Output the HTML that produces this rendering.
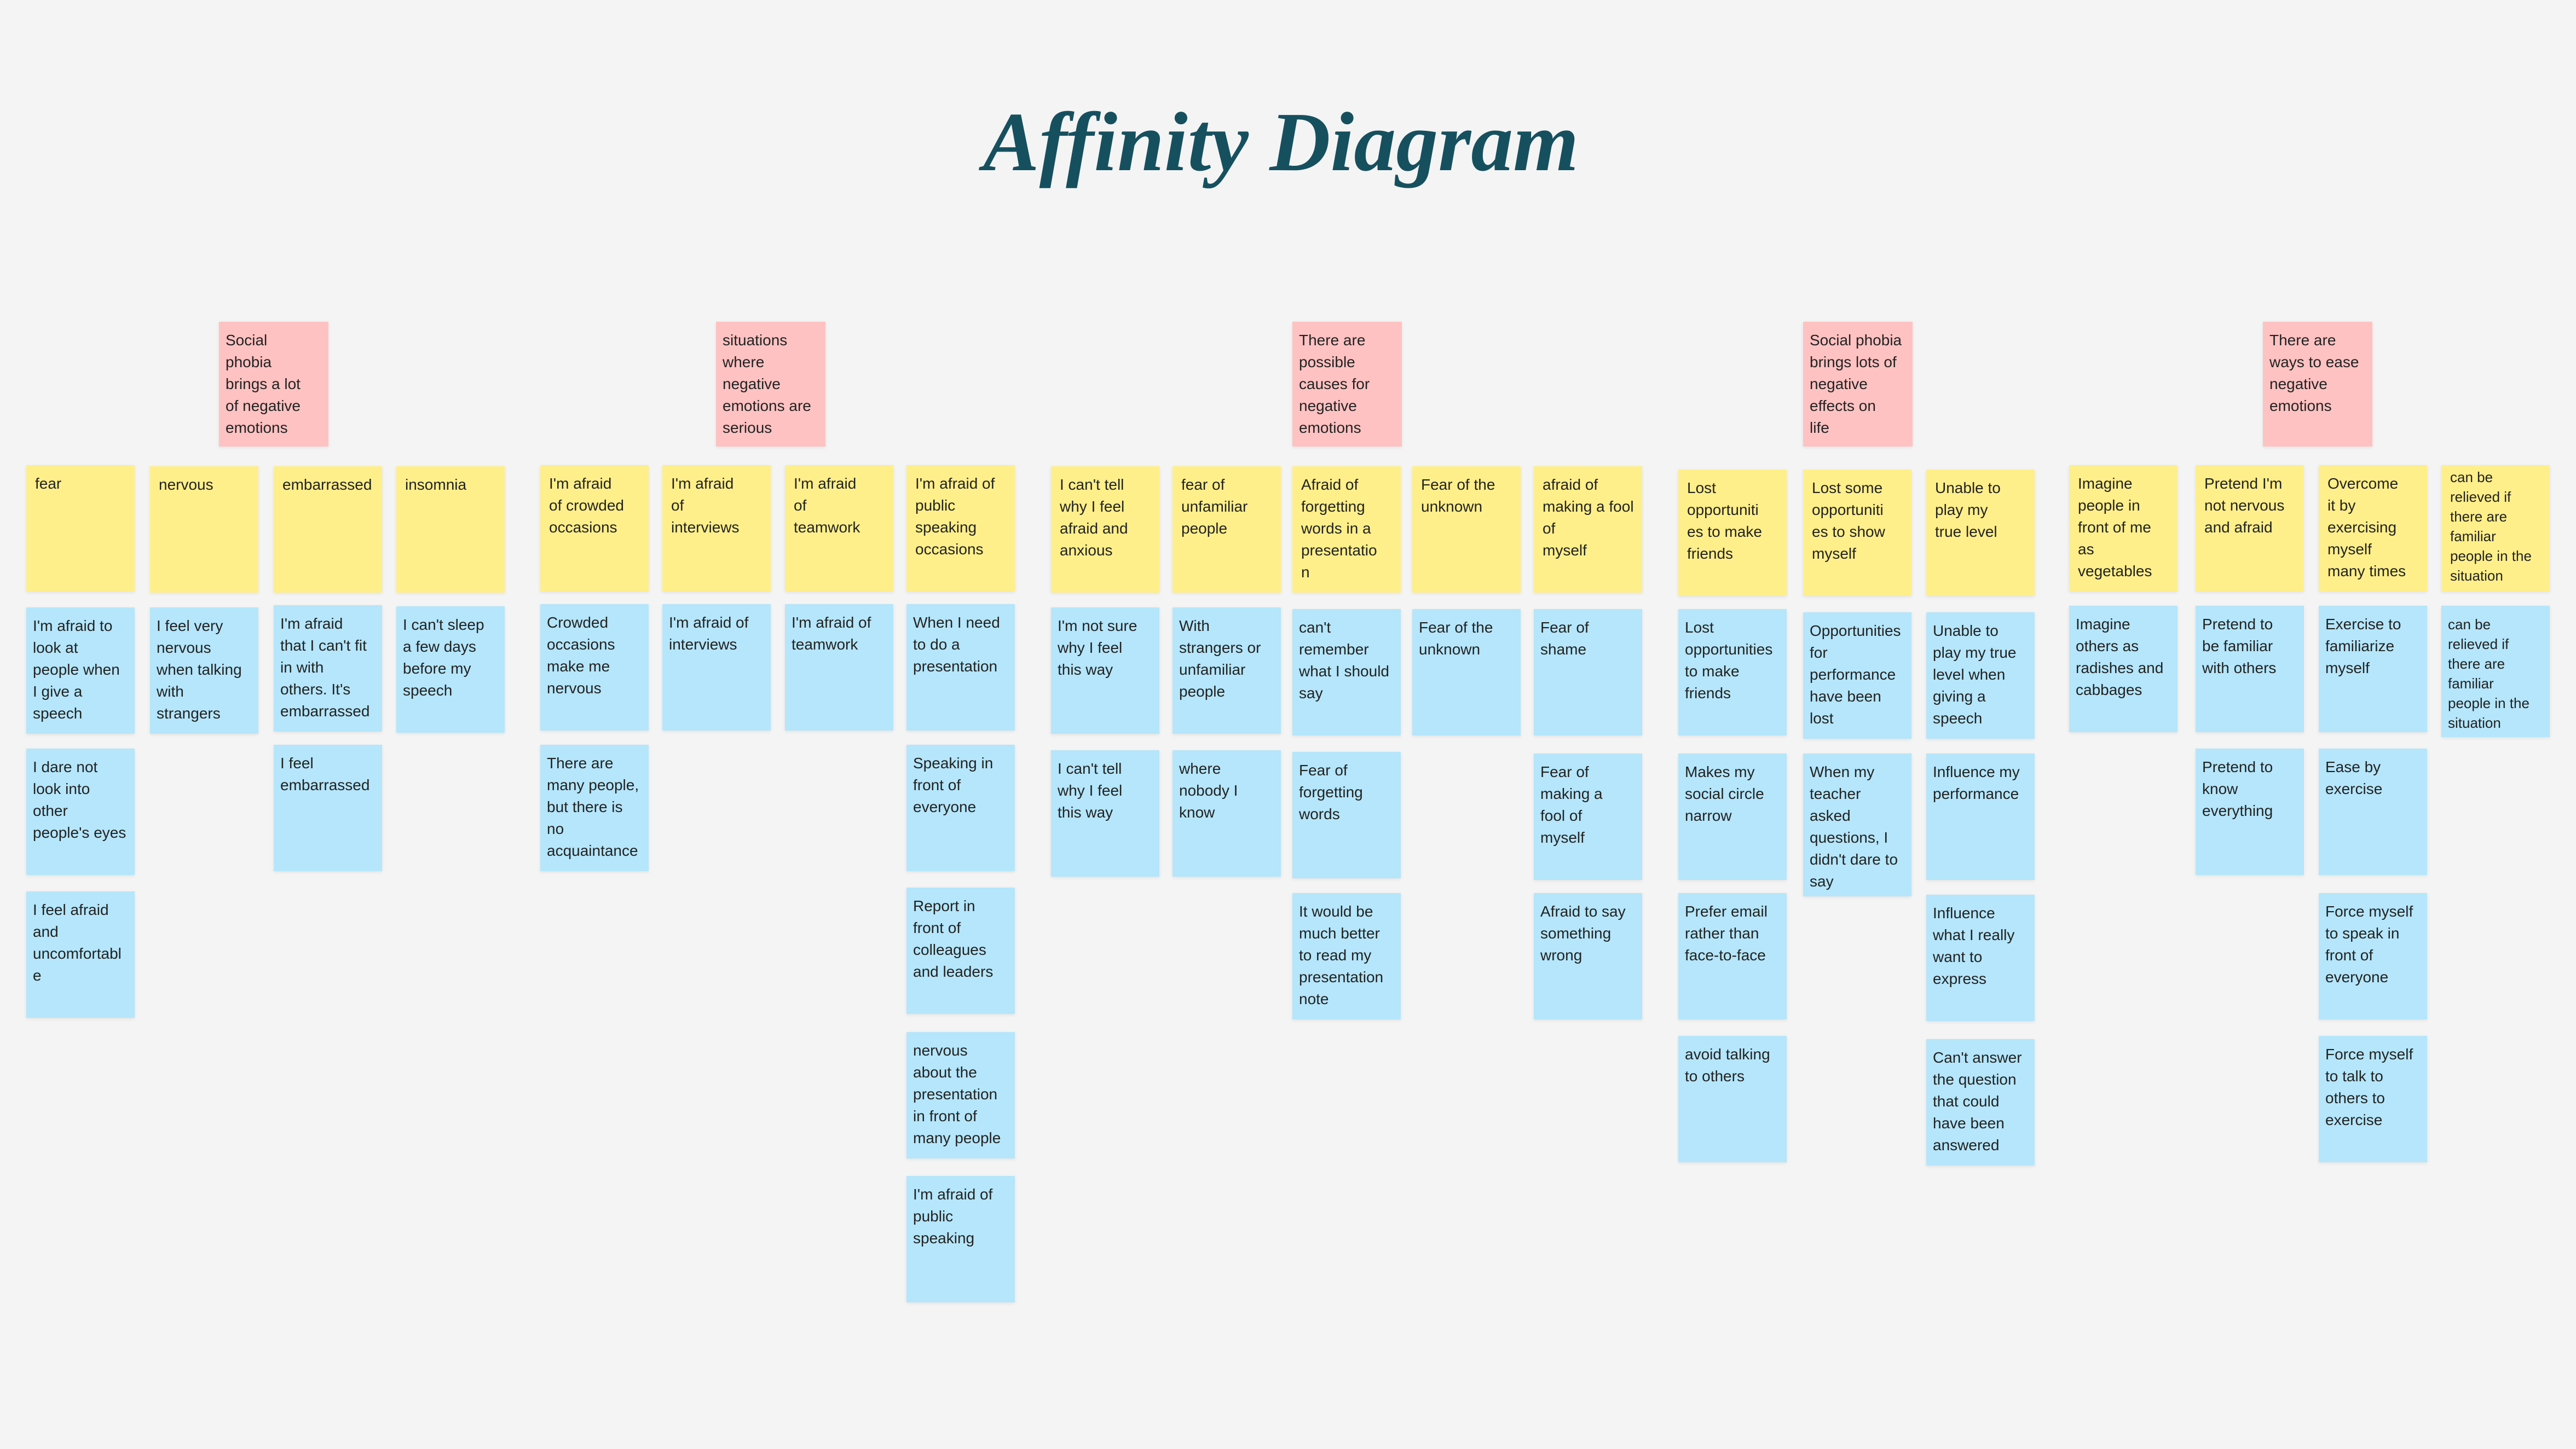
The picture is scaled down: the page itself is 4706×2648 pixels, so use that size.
<!DOCTYPE html>
<html><head><meta charset="utf-8"><style>
html,body{margin:0;padding:0}
body{width:4706px;height:2648px;background:#f4f4f4;position:relative;overflow:hidden;font-family:"Liberation Sans","DejaVu Sans",sans-serif}
.t{position:absolute;left:0;width:4680px;text-align:center;top:170px;font-family:"Liberation Serif",serif;font-style:italic;font-weight:bold;font-size:154px;line-height:180px;color:#16505f}
.n{position:absolute;width:198px;height:231px;box-sizing:border-box;padding:14px 8px 0 12px;font-size:28px;line-height:40px;color:#222;white-space:nowrap;overflow:hidden;box-shadow:0 2px 6px rgba(0,0,0,0.08)}
.y{background:#ffef8a;padding-left:16px}
.b{background:#b5e6fb}
.p{background:#ffc2c2;width:200px;height:228px}
.s{font-size:26px;line-height:36px;padding-top:4px}
</style></head><body>
<div class="t">Affinity Diagram</div>

<div class="n p" style="left:400px;top:588px">Social<br>phobia<br>brings a lot<br>of negative<br>emotions</div>
<div class="n p" style="left:1308px;top:588px">situations<br>where<br>negative<br>emotions are<br>serious</div>
<div class="n p" style="left:2361px;top:588px">There are<br>possible<br>causes for<br>negative<br>emotions</div>
<div class="n p" style="left:3294px;top:588px">Social phobia<br>brings lots of<br>negative<br>effects on<br>life</div>
<div class="n p" style="left:4134px;top:588px">There are<br>ways to ease<br>negative<br>emotions</div>

<div class="n y" style="left:48px;top:850px">fear</div>
<div class="n b" style="left:48px;top:1110px">I'm afraid to<br>look at<br>people when<br>I give a<br>speech</div>
<div class="n b" style="left:48px;top:1368px">I dare not<br>look into<br>other<br>people's eyes</div>
<div class="n b" style="left:48px;top:1629px">I feel afraid<br>and<br>uncomfortabl<br>e</div>
<div class="n y" style="left:274px;top:852px">nervous</div>
<div class="n b" style="left:274px;top:1110px">I feel very<br>nervous<br>when talking<br>with<br>strangers</div>
<div class="n y" style="left:500px;top:852px">embarrassed</div>
<div class="n b" style="left:500px;top:1106px">I'm afraid<br>that I can't fit<br>in with<br>others. It's<br>embarrassed</div>
<div class="n b" style="left:500px;top:1361px">I feel<br>embarrassed</div>
<div class="n y" style="left:724px;top:852px">insomnia</div>
<div class="n b" style="left:724px;top:1108px">I can't sleep<br>a few days<br>before my<br>speech</div>
<div class="n y" style="left:987px;top:850px">I'm afraid<br>of crowded<br>occasions</div>
<div class="n b" style="left:987px;top:1104px">Crowded<br>occasions<br>make me<br>nervous</div>
<div class="n b" style="left:987px;top:1361px">There are<br>many people,<br>but there is<br>no<br>acquaintance</div>
<div class="n y" style="left:1210px;top:850px">I'm afraid<br>of<br>interviews</div>
<div class="n b" style="left:1210px;top:1104px">I'm afraid of<br>interviews</div>
<div class="n y" style="left:1434px;top:850px">I'm afraid<br>of<br>teamwork</div>
<div class="n b" style="left:1434px;top:1104px">I'm afraid of<br>teamwork</div>
<div class="n y" style="left:1656px;top:850px">I'm afraid of<br>public<br>speaking<br>occasions</div>
<div class="n b" style="left:1656px;top:1104px">When I need<br>to do a<br>presentation</div>
<div class="n b" style="left:1656px;top:1361px">Speaking in<br>front of<br>everyone</div>
<div class="n b" style="left:1656px;top:1622px">Report in<br>front of<br>colleagues<br>and leaders</div>
<div class="n b" style="left:1656px;top:1886px">nervous<br>about the<br>presentation<br>in front of<br>many people</div>
<div class="n b" style="left:1656px;top:2149px">I'm afraid of<br>public<br>speaking</div>
<div class="n y" style="left:1920px;top:852px">I can't tell<br>why I feel<br>afraid and<br>anxious</div>
<div class="n b" style="left:1920px;top:1110px">I'm not sure<br>why I feel<br>this way</div>
<div class="n b" style="left:1920px;top:1371px">I can't tell<br>why I feel<br>this way</div>
<div class="n y" style="left:2142px;top:852px">fear of<br>unfamiliar<br>people</div>
<div class="n b" style="left:2142px;top:1110px">With<br>strangers or<br>unfamiliar<br>people</div>
<div class="n b" style="left:2142px;top:1371px">where<br>nobody I<br>know</div>
<div class="n y" style="left:2361px;top:852px">Afraid of<br>forgetting<br>words in a<br>presentatio<br>n</div>
<div class="n b" style="left:2361px;top:1113px">can't<br>remember<br>what I should<br>say</div>
<div class="n b" style="left:2361px;top:1374px">Fear of<br>forgetting<br>words</div>
<div class="n b" style="left:2361px;top:1632px">It would be<br>much better<br>to read my<br>presentation<br>note</div>
<div class="n y" style="left:2580px;top:852px">Fear of the<br>unknown</div>
<div class="n b" style="left:2580px;top:1113px">Fear of the<br>unknown</div>
<div class="n y" style="left:2802px;top:852px">afraid of<br>making a fool<br>of<br>myself</div>
<div class="n b" style="left:2802px;top:1113px">Fear of<br>shame</div>
<div class="n b" style="left:2802px;top:1377px">Fear of<br>making a<br>fool of<br>myself</div>
<div class="n b" style="left:2802px;top:1632px">Afraid to say<br>something<br>wrong</div>
<div class="n y" style="left:3066px;top:858px">Lost<br>opportuniti<br>es to make<br>friends</div>
<div class="n b" style="left:3066px;top:1113px">Lost<br>opportunities<br>to make<br>friends</div>
<div class="n b" style="left:3066px;top:1377px">Makes my<br>social circle<br>narrow</div>
<div class="n b" style="left:3066px;top:1632px">Prefer email<br>rather than<br>face-to-face</div>
<div class="n b" style="left:3066px;top:1893px">avoid talking<br>to others</div>
<div class="n y" style="left:3294px;top:858px">Lost some<br>opportuniti<br>es to show<br>myself</div>
<div class="n b" style="left:3294px;top:1119px">Opportunities<br>for<br>performance<br>have been<br>lost</div>
<div class="n b" style="left:3294px;top:1377px;height:261px">When my<br>teacher<br>asked<br>questions, I<br>didn't dare to<br>say</div>
<div class="n y" style="left:3519px;top:858px">Unable to<br>play my<br>true level</div>
<div class="n b" style="left:3519px;top:1119px">Unable to<br>play my true<br>level when<br>giving a<br>speech</div>
<div class="n b" style="left:3519px;top:1377px">Influence my<br>performance</div>
<div class="n b" style="left:3519px;top:1635px">Influence<br>what I really<br>want to<br>express</div>
<div class="n b" style="left:3519px;top:1899px">Can't answer<br>the question<br>that could<br>have been<br>answered</div>
<div class="n y" style="left:3780px;top:850px">Imagine<br>people in<br>front of me<br>as<br>vegetables</div>
<div class="n b" style="left:3780px;top:1107px">Imagine<br>others as<br>radishes and<br>cabbages</div>
<div class="n y" style="left:4011px;top:850px">Pretend I'm<br>not nervous<br>and afraid</div>
<div class="n b" style="left:4011px;top:1107px">Pretend to<br>be familiar<br>with others</div>
<div class="n b" style="left:4011px;top:1368px">Pretend to<br>know<br>everything</div>
<div class="n y" style="left:4236px;top:850px">Overcome<br>it by<br>exercising<br>myself<br>many times</div>
<div class="n b" style="left:4236px;top:1107px">Exercise to<br>familiarize<br>myself</div>
<div class="n b" style="left:4236px;top:1368px">Ease by<br>exercise</div>
<div class="n b" style="left:4236px;top:1632px">Force myself<br>to speak in<br>front of<br>everyone</div>
<div class="n b" style="left:4236px;top:1893px">Force myself<br>to talk to<br>others to<br>exercise</div>
<div class="n y s" style="left:4460px;top:850px">can be<br>relieved if<br>there are<br>familiar<br>people in the<br>situation</div>
<div class="n b s" style="left:4460px;top:1107px;height:240px;padding-top:16px">can be<br>relieved if<br>there are<br>familiar<br>people in the<br>situation</div>
</body></html>
